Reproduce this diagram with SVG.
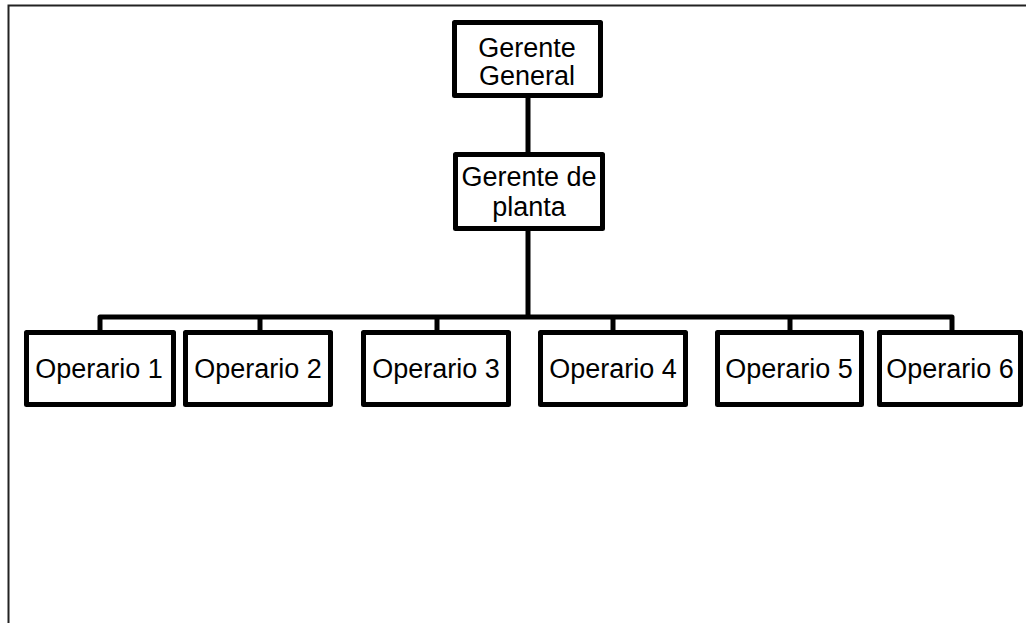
<svg xmlns="http://www.w3.org/2000/svg" width="1026" height="623" viewBox="0 0 1026 623">
<style>
.box{fill:#fff;stroke:#000;stroke-width:5;stroke-linejoin:round}
.con{fill:none;stroke:#000;stroke-width:5;stroke-linejoin:round;stroke-linecap:butt}
.t{font-family:"Liberation Sans",Arial,sans-serif;font-size:27px;fill:#000;text-anchor:middle}
</style>
<rect width="1026" height="623" fill="#fff"/>
<path d="M8.5,623 V5.5 H1026" fill="none" stroke="#222" stroke-width="2"/>
<g id="connectors">
<path class="con" d="M528,96 V154"/>
<path class="con" d="M528,231 V317"/>
<path class="con" d="M100,332 V317 H952 V332"/>
<path class="con" d="M260,317 V332"/>
<path class="con" d="M437,317 V332"/>
<path class="con" d="M613,317 V332"/>
<path class="con" d="M790,317 V332"/>
</g>
<g id="gerente-general">
<rect class="box" x="454.5" y="22.5" width="146" height="73"/>
<text class="t" x="527" y="57">Gerente</text>
<text class="t" x="527" y="85">General</text>
</g>
<g id="gerente-planta">
<rect class="box" x="455.5" y="154.5" width="147" height="74"/>
<text class="t" x="529" y="186">Gerente de</text>
<text class="t" x="529" y="216">planta</text>
</g>
<g id="operario-1">
<rect class="box" x="26.5" y="332.5" width="147" height="72"/>
<text class="t" x="99" y="378">Operario 1</text>
</g>
<g id="operario-2">
<rect class="box" x="185.5" y="332.5" width="145" height="72"/>
<text class="t" x="258" y="378">Operario 2</text>
</g>
<g id="operario-3">
<rect class="box" x="363.5" y="332.5" width="145" height="72"/>
<text class="t" x="436" y="378">Operario 3</text>
</g>
<g id="operario-4">
<rect class="box" x="540.5" y="332.5" width="145" height="72"/>
<text class="t" x="613" y="378">Operario 4</text>
</g>
<g id="operario-5">
<rect class="box" x="717.5" y="332.5" width="144" height="72"/>
<text class="t" x="789" y="378">Operario 5</text>
</g>
<g id="operario-6">
<rect class="box" x="879.5" y="332.5" width="141" height="72"/>
<text class="t" x="950" y="378">Operario 6</text>
</g>
</svg>
